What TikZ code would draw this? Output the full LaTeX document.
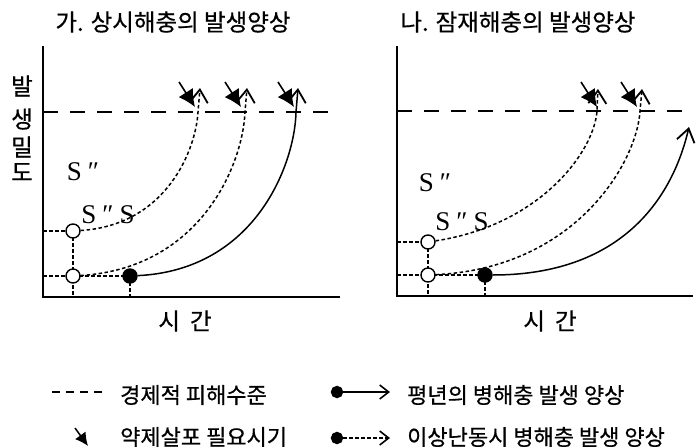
\documentclass[tikz,border=0pt]{standalone}
\usepackage{fontspec}
\setmainfont{Noto Sans CJK KR}[FakeBold=0.6]
\newfontfamily\serifS{Liberation Serif}
\usetikzlibrary{arrows.meta}
\begin{document}
\begin{tikzpicture}[x=1pt,y=-1pt,
 axisline/.style={line width=2pt},
 thresh/.style={line width=1.6pt, dash pattern=on 15pt off 12pt},
 dotline/.style={line width=1.5pt, dash pattern=on 3.5pt off 2.5pt},
 solidcurve/.style={line width=1.5pt},
 opencirc/.style={circle, draw, fill=white, line width=1.4pt, minimum size=14pt, inner sep=0pt},
 fullcirc/.style={circle, draw, fill=black, line width=1.4pt, minimum size=14pt, inner sep=0pt},
 uptip/.style={-{Straight Barb[length=13pt,width=18pt,line width=1.8pt]}},
 spraytip/.style={line width=1.6pt, -{Latex[length=17pt,width=17pt]}},
 krtext/.style={font=\fontsize{22}{22}\selectfont, inner sep=0pt},
 titletext/.style={font=\fontsize{23.5}{23.5}\selectfont, inner sep=0pt},
 slabel/.style={font=\serifS\fontsize{27}{27}\selectfont, inner sep=0pt}
]
\useasboundingbox (0,0) rectangle (696,447);

% titles
\node[titletext] (tl) at (173,22) {가. 상시해충의 발생양상};
\node[titletext] (tr) at (518,22) {나. 잠재해충의 발생양상};

% y label
\node[titletext] (y1) at (22,86) {발};
\node[titletext] (y2) at (22,119) {생};
\node[titletext] (y3) at (22,147) {밀};
\node[titletext] (y4) at (22,172) {도};

% ===== left panel =====
\coordinate (LO) at (43,297);
\coordinate (LT) at (43,46);
\coordinate (LX) at (340,297);
\draw[axisline] (LT) -- (LO) -- (LX);
\coordinate (LD1) at (43,112);
\coordinate (LD2) at (332,112);
\draw[thresh] (LD1) -- (LD2);

\coordinate (lau) at (43,231);
\coordinate (lal) at (43,276);
\coordinate (lb1) at (73,297);
\coordinate (lb2) at (130,297);
\coordinate (lc1) at (198,112);
\coordinate (lt1) at (200,88);
\coordinate (lc2) at (245,112);
\coordinate (lt2) at (247,88);
\coordinate (lc3) at (296,112);
\coordinate (lt3) at (298,88);

\draw[dotline] (lau) -- (73,231);
\draw[dotline] (lal) -- (73,276) -- (130,276);
\draw[dotline] (73,231) -- (lb1);
\draw[dotline] (130,276) -- (lb2);

\node[opencirc] (lu) at (73,231) {};
\node[opencirc] (ll) at (73,276) {};
\node[fullcirc] (lf) at (130,276) {};

\draw[dotline, uptip] (lu) .. controls (167,225) and (196,149) .. (lc1) -- (lt1);
\draw[dotline, uptip] (ll) .. controls (202,268) and (243,163) .. (lc2) -- (lt2);
\draw[solidcurve, uptip] (lf) .. controls (256,270) and (295,163) .. (lc3) -- (lt3);

\coordinate (ls1) at (179,82); \coordinate (le1) at (195,107);
\coordinate (ls2) at (225,82); \coordinate (le2) at (241,107);
\coordinate (ls3) at (278,82); \coordinate (le3) at (294,107);
\draw[spraytip] (ls1) -- (le1);
\draw[spraytip] (ls2) -- (le2);
\draw[spraytip] (ls3) -- (le3);

\node[slabel] (lS1) at (83,172) {S\hspace{6pt}″};
\node[slabel] (lS2) at (108,215) {S\hspace{6pt}″\hspace{6pt}S};

\node[titletext] (lx) at (185,321) {시\hspace{10pt}간};

% ===== right panel =====
\coordinate (RO) at (397,296);
\coordinate (RT) at (397,46);
\coordinate (RX) at (693,296);
\draw[axisline] (RT) -- (RO) -- (RX);
\coordinate (RD1) at (397,111);
\coordinate (RD2) at (685,111);
\draw[thresh] (RD1) -- (RD2);

\coordinate (rau) at (397,242);
\coordinate (ral) at (397,275);
\coordinate (rb1) at (428,296);
\coordinate (rb2) at (485,296);
\coordinate (rc1) at (597,111);
\coordinate (rt1) at (598,89);
\coordinate (rc2) at (640,111);
\coordinate (rt2) at (642,89);
\coordinate (rt3) at (689,127);

\draw[dotline] (rau) -- (428,242);
\draw[dotline] (ral) -- (428,275) -- (485,275);
\draw[dotline] (428,242) -- (rb1);
\draw[dotline] (485,275) -- (rb2);

\node[opencirc] (ru) at (428,242) {};
\node[opencirc] (rl) at (428,275) {};
\node[fullcirc] (rf) at (485,275) {};

\draw[dotline, uptip] (ru) .. controls (540,225) and (594,152) .. (rc1) -- (rt1);
\draw[dotline, uptip] (rl) .. controls (576,268) and (637,162) .. (rc2) -- (rt2);
\draw[solidcurve, uptip] (rf) .. controls (620,275) and (672,200) .. (rt3);

\coordinate (rs1) at (581,82); \coordinate (re1) at (597,107);
\coordinate (rs2) at (621,82); \coordinate (re2) at (637,107);
\draw[spraytip] (rs1) -- (re1);
\draw[spraytip] (rs2) -- (re2);

\node[slabel] (rS1) at (435,183) {S\hspace{6pt}″};
\node[slabel] (rS2) at (462,222) {S\hspace{6pt}″\hspace{6pt}S};

\node[titletext] (rx) at (550,321) {시\hspace{10pt}간};

% ===== legend =====
\coordinate (g1a) at (52,392); \coordinate (g1b) at (104,392);
\draw[line width=1.4pt, dash pattern=on 8pt off 6pt] (g1a) -- (g1b);
\node[krtext, anchor=west] (g1t) at (120,395) {경제적 피해수준};

\coordinate (g2a) at (75,428); \coordinate (g2b) at (88,446);
\draw[line width=1.5pt, -{Latex[length=13pt,width=13pt]}] (g2a) -- (g2b);
\node[krtext, anchor=west] (g2t) at (120,437) {약제살포 필요시기};

\node[fullcirc, minimum size=11pt] (g3d) at (337,392) {};
\coordinate (g3b) at (390,392);
\draw[solidcurve, -{Straight Barb[length=9pt,width=14pt,line width=1.6pt]}] (g3d) -- (g3b);
\node[krtext, anchor=west] (g3t) at (407,395) {평년의 병해충 발생 양상};

\node[fullcirc, minimum size=11pt] (g4d) at (337,438) {};
\coordinate (g4b) at (390,438);
\draw[dotline, -{Straight Barb[length=9pt,width=14pt,line width=1.6pt]}] (g4d) -- (g4b);
\node[krtext, anchor=west] (g4t) at (407,437) {이상난동시 병해충 발생 양상};
\end{tikzpicture}
\end{document}
